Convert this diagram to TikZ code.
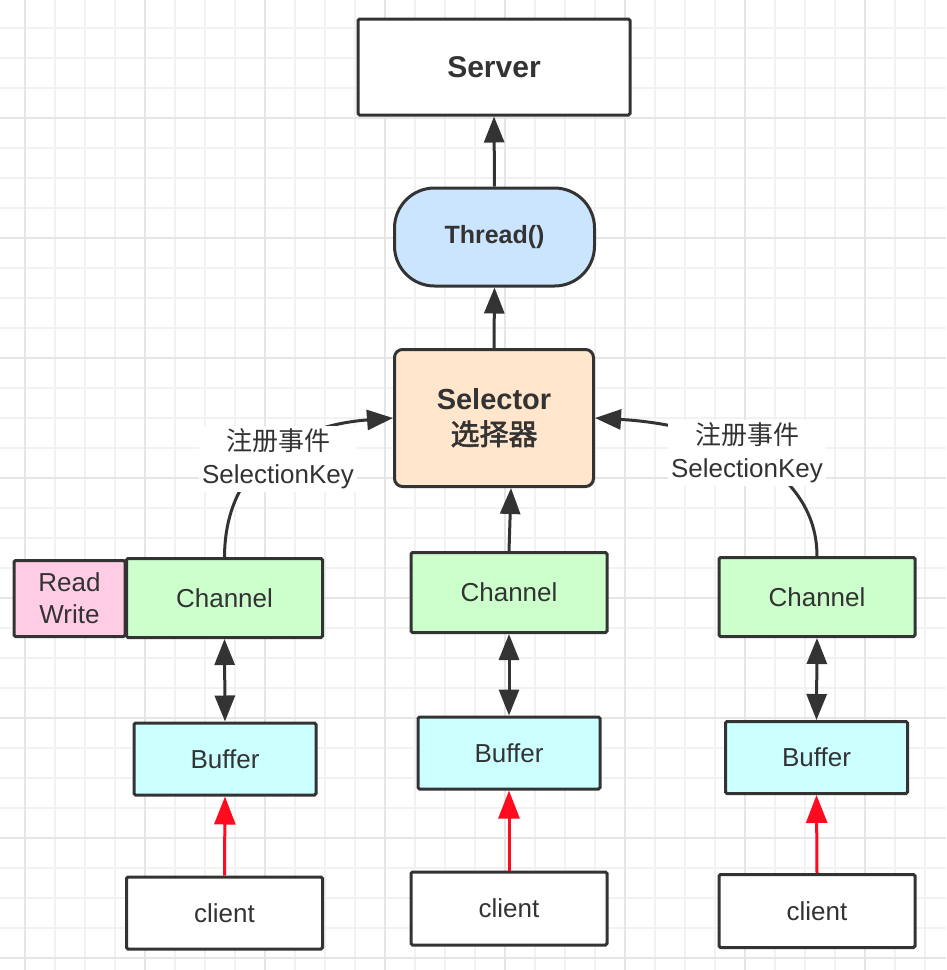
\documentclass[tikz,border=0pt]{standalone}
\usepackage{fontspec}
\setmainfont{Liberation Sans}
\newfontfamily\cjk{Noto Sans CJK SC}
\newfontfamily\cjkbold[FakeBold=2]{Noto Sans CJK SC}
\usetikzlibrary{arrows.meta}
\definecolor{ink}{HTML}{333333}
\definecolor{gridminor}{HTML}{F2F2F2}
\definecolor{gridmajor}{HTML}{E6E6E6}
\definecolor{thrfill}{HTML}{CCE5FF}
\definecolor{selfill}{HTML}{FFE6CC}
\definecolor{chfill}{HTML}{CCFFCC}
\definecolor{rwfill}{HTML}{FFCCE6}
\definecolor{buffill}{HTML}{CCFFFF}
\definecolor{redline}{HTML}{FF0A1E}
\begin{document}
\begin{tikzpicture}[x=1pt,y=-1pt,
  box/.style={draw=ink, line width=3pt, inner sep=0pt, text=ink, align=center,
    rounded corners=1.5pt, font=\fontsize{26}{32}\selectfont},
  chbox/.style={box, fill=chfill, minimum width=196pt, minimum height=79pt},
  bufbox/.style={box, fill=buffill, minimum width=182pt, minimum height=72pt},
  clbox/.style={box, fill=white, minimum width=196pt, minimum height=72pt},
  arr/.style={draw=ink, line width=3pt, -{Triangle[length=26pt,width=20pt]}},
  darr/.style={draw=ink, line width=3pt, {Triangle[length=26pt,width=20pt]}-{Triangle[length=26pt,width=20pt]}},
  redarr/.style={draw=redline, line width=3pt, -{Triangle[length=28pt,width=21pt]}},
  lbl/.style={fill=white, text=ink, align=center, inner sep=3pt, font=\fontsize{26}{33}\selectfont},
  gminor/.style={draw=gridminor, line width=1.5pt},
  gmajor/.style={draw=gridmajor, line width=1.5pt}]
\useasboundingbox (0,0) rectangle (946,970);
\fill[white] (0,0) rectangle (946,970);
% grid
\foreach \x in {25,55,...,925} \draw[gminor] (\x,0) -- (\x,970);
\foreach \y in {28,58,...,958} \draw[gminor] (0,\y) -- (946,\y);
\foreach \x in {25,145,...,865} \draw[gmajor] (\x,0) -- (\x,970);
\foreach \y in {118,238,...,958} \draw[gmajor] (0,\y) -- (946,\y);
% top column
\node[box, fill=white, minimum width=272pt, minimum height=96pt,
  font=\bfseries\fontsize{30}{36}\selectfont] (srv) at (494,67) {Server};
\node[box, fill=thrfill, minimum width=200pt, minimum height=98pt, rounded corners=40pt,
  font=\bfseries\fontsize{25}{30}\selectfont] (thr) at (494.5,237) {Thread()};
\node[box, fill=selfill, minimum width=199pt, minimum height=137pt, rounded corners=8pt,
  font=\fontsize{29}{35}\selectfont] (sel) at (494,418) {{\bfseries Selector}\\{\cjkbold 选择器}};
% left column
\node[box, fill=rwfill, minimum width=111pt, minimum height=76pt] (rw) at (69.5,598.5) {Read\\Write};
\node[chbox] (lch) at (224.5,598) {Channel};
\node[bufbox] (lbuf) at (225,759) {Buffer};
\node[clbox] (lcl) at (224.5,913) {client};
% middle column
\node[chbox, minimum height=80pt] (mch) at (509,592.5) {Channel};
\node[bufbox] (mbuf) at (509,753) {Buffer};
\node[clbox, minimum height=73pt] (mcl) at (509,908.5) {client};
% right column
\node[chbox] (rch) at (817,597) {Channel};
\node[bufbox] (rbuf) at (816.5,757.5) {Buffer};
\node[clbox, minimum height=73pt] (rcl) at (817,911) {client};
% connectors
\draw[arr] (thr.north) -- (srv.south);
\draw[arr] (sel.north) -- (thr.south);
\draw[arr] (mch.north) -- ([xshift=17pt]sel.south);
\draw[arr] (lch.north) .. controls (225,460) and (300,425) .. (sel.west);
\draw[arr] (rch.north) .. controls (817,470) and (720,425) .. (sel.east);
\draw[darr] (lch.south) -- (lbuf.north);
\draw[darr] (mch.south) -- (mbuf.north);
\draw[darr] (rch.south) -- (rbuf.north);
\draw[redarr] (lcl.north) -- (lbuf.south);
\draw[redarr] (mcl.north) -- (mbuf.south);
\draw[redarr] (rcl.north) -- (rbuf.south);
% edge labels
\node[lbl] (llbl) at (278,459) {{\cjk 注册事件}\\SelectionKey};
\node[lbl] (rlbl) at (747,453) {{\cjk 注册事件}\\SelectionKey};
\end{tikzpicture}
\end{document}
